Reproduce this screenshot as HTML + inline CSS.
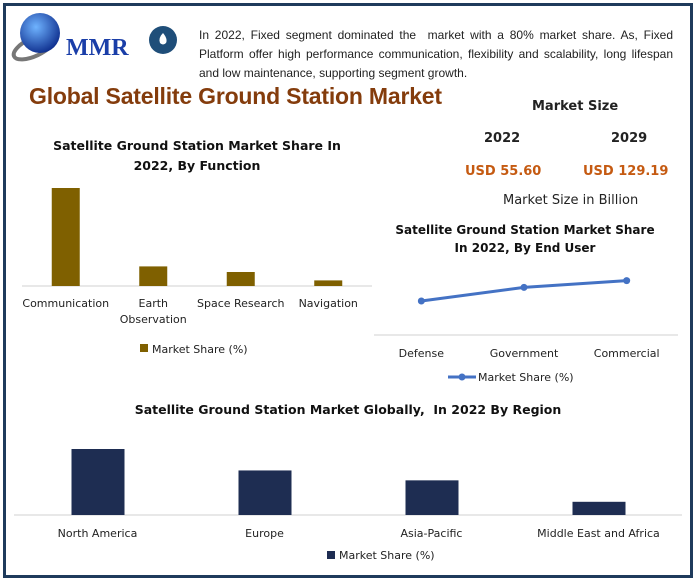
<!DOCTYPE html>
<html><head><meta charset="utf-8"><style>
body{margin:0;width:696px;height:581px;background:#fff;font-family:"Liberation Sans",sans-serif;overflow:hidden}
#frame{position:absolute;left:3px;top:3px;width:684px;height:569px;border:3px solid #1f3b5c;}
.t{position:absolute;font-family:"DejaVu Sans","Liberation Sans",sans-serif}
svg{position:absolute;left:0;top:0}
</style></head><body>
<div id="frame"></div>
<svg width="696" height="581">
<defs><radialGradient id="g" cx="0.4" cy="0.35" r="0.7"><stop offset="0" stop-color="#6fb3ff"/><stop offset="1" stop-color="#0b2a8a"/></radialGradient></defs>
<ellipse cx="34" cy="47" rx="22" ry="9" fill="none" stroke="#777" stroke-width="4" transform="rotate(-25 34 47)"/>
<circle cx="40" cy="33" r="20" fill="url(#g)"/>
<text x="66" y="55" font-family="Liberation Serif,serif" font-weight="bold" font-size="24" fill="#1a3ea8">MMR</text>
<circle cx="163" cy="40" r="14" fill="#1f4e79"/>
<path d="M163 33 q5 6 3 10 q-3 3 -6 0 q-2 -5 3 -10z" fill="#fff"/>
</svg>
<div class="t" style="left:199px;top:26px;width:474px;font-family:'Liberation Sans',sans-serif;font-size:12px;line-height:19px;text-align:justify;color:#222">In 2022, Fixed segment dominated the &nbsp;market with a 80% market share. As, Fixed Platform offer high performance communication, flexibility and scalability, long lifespan and low maintenance, supporting segment growth.</div>
<div class="t" style="left:29px;top:83px;font-family:'Liberation Sans',sans-serif;font-size:23px;font-weight:bold;color:#843c0c;letter-spacing:-0.2px">Global Satellite Ground Station Market</div>
<div class="t" style="left:532px;top:99px;font-size:13px;font-weight:bold;color:#222">Market Size</div>
<div class="t" style="left:484px;top:131px;font-size:13px;font-weight:bold;color:#222">2022</div>
<div class="t" style="left:611px;top:131px;font-size:13px;font-weight:bold;color:#222">2029</div>
<div class="t" style="left:465px;top:164px;font-size:13px;font-weight:bold;color:#c55a11">USD 55.60</div>
<div class="t" style="left:583px;top:164px;font-size:13px;font-weight:bold;color:#c55a11">USD 129.19</div>
<div class="t" style="left:503px;top:193px;font-size:13px;color:#222">Market Size in Billion</div>
<div class="t" style="left:22px;top:136px;width:350px;text-align:center;font-size:12.5px;font-weight:bold;line-height:20px;color:#111">Satellite Ground Station Market Share In<br>2022, By Function</div>
<div class="t" style="left:380px;top:221px;width:290px;text-align:center;font-size:12px;font-weight:bold;line-height:18px;color:#111">Satellite Ground Station Market Share<br>In 2022, By End User</div>
<div class="t" style="left:0;top:402px;width:696px;text-align:center;font-size:12.5px;font-weight:bold;color:#111">Satellite Ground Station Market Globally, &nbsp;In 2022 By Region</div>
<svg id="c" width="696" height="581"></svg>
<script>
const fnCats=["Communication","Earth Observation","Space Research","Navigation"];
const fnVals=[70,14,10,4];
const euCats=["Defense","Government","Commercial"];
const euVals=[25,35,40];
const rgCats=["North America","Europe","Asia-Pacific","Middle East and Africa"];
const rgVals=[40,27,21,8];
const NS="http://www.w3.org/2000/svg";
const svg=document.getElementById('c');
function mk(tag,at,txt){const e=document.createElementNS(NS,tag);for(const k in at)e.setAttribute(k,at[k]);if(txt!==undefined)e.textContent=txt;svg.appendChild(e);return e;}
function txt(x,y,s,anchor,size){return mk('text',{x:x,y:y,'text-anchor':anchor||'middle','font-size':size||11,'font-family':'DejaVu Sans, Liberation Sans, sans-serif',fill:'#222'},s);}
const fx0=22,fx1=372,fb=286,fs=1.4,fstep=(fx1-fx0)/fnCats.length;
let l=mk('line',{x1:fx0,x2:fx1,y1:fb,y2:fb,stroke:'#d0d0d0'});

fnCats.forEach((c,i)=>{const cx=fx0+fstep*(i+0.5);const h=fnVals[i]*fs;
 const r=mk('rect',{x:cx-14,y:fb-h,width:28,height:h,fill:'#7f6000'});
 
 const parts=c==="Earth Observation"?["Earth","Observation"]:[c];
 parts.forEach((p,j)=>{const t=txt(cx,fb+21+j*16,p);});
});
let lg=mk('rect',{x:140,y:344,width:8,height:8,fill:'#7f6000'});
let lt=txt(152,353,'Market Share (%)','start');
const ex0=370,ex1=678,eb=335,es=1.36,estep=(ex1-ex0)/euCats.length;
l=mk('line',{x1:374,x2:ex1,y1:eb,y2:eb,stroke:'#d0d0d0'});

const pts=euCats.map((c,i)=>[ex0+estep*(i+0.5),eb-euVals[i]*es]);
let pl=mk('polyline',{points:pts.map(p=>p.join(',')).join(' '),fill:'none',stroke:'#4472c4','stroke-width':3});

pts.forEach((p,i)=>{const c=mk('circle',{cx:p[0],cy:p[1],r:3.5,fill:'#4472c4'});
 const t=txt(p[0],357,euCats[i]);});
l=mk('line',{x1:448,x2:476,y1:377,y2:377,stroke:'#4472c4','stroke-width':3});
let c2=mk('circle',{cx:462,cy:377,r:3.5,fill:'#4472c4'});
lt=txt(478,381,'Market Share (%)','start');
const rx0=14,rx1=682,rb=515,rs=1.65,rstep=(rx1-rx0)/rgCats.length;
l=mk('line',{x1:rx0,x2:rx1,y1:rb,y2:rb,stroke:'#d0d0d0'});

rgCats.forEach((c,i)=>{const cx=rx0+rstep*(i+0.5);const h=rgVals[i]*rs;
 const r=mk('rect',{x:cx-26,y:rb-h,width:53,height:h,fill:'#1e2d52'});
 
 const t=txt(cx,537,c);});
lg=mk('rect',{x:327,y:551,width:8,height:8,fill:'#1e2d52'});
lt=txt(339,559,'Market Share (%)','start');
</script>
</body></html>
